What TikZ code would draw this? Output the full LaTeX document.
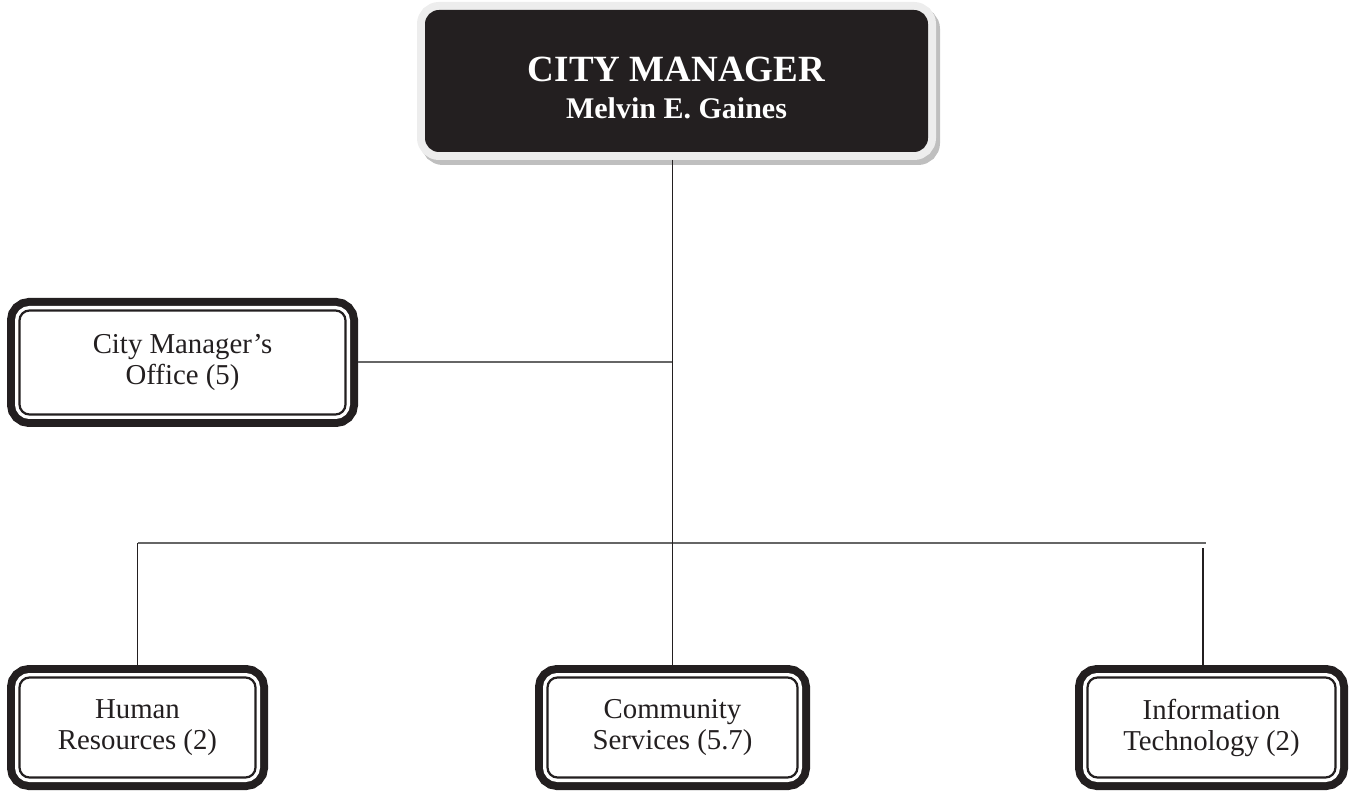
\documentclass[tikz,border=0pt]{standalone}
\usepackage{fontspec}
\setmainfont{Liberation Serif}
\usepackage{tikz}

\definecolor{inkblack}{HTML}{231F20}

\tikzset{
  boss/.style={rectangle, rounded corners=7pt, fill=inkblack, text=white,
    minimum width=251.5pt, minimum height=71pt, outer sep=4pt, align=center,
    font=\bfseries\fontsize{15}{18.5}\selectfont,
    preaction={draw=black!25, line width=8pt, transform canvas={shift={(2pt,-2.5pt)}}},
    preaction={draw=black!7, line width=8pt}},
  unitbox/.style={rectangle, rounded corners=5pt, draw=inkblack, line width=1.1pt,
    fill=white, text=inkblack, minimum height=50pt, outer sep=6.25pt, align=center,
    font=\fontsize{14.4}{15.5}\selectfont,
    preaction={draw=inkblack, line width=12.5pt},
    preaction={draw=white, line width=4.5pt}},
  link/.style={draw=inkblack, line width=0.8pt},
  bus/.style={draw=black!60, line width=1pt}
}

\begin{document}
\begin{tikzpicture}[x=0.5pt, y=-0.5pt]
    \useasboundingbox (0,0) rectangle (1351,791);
    % Nodes
    \node (top) [boss] at (676.5, 81) {{\fontsize{18.5}{18.5}\selectfont\rule{0pt}{19pt}CITY MANAGER}\\ Melvin E. Gaines};
    \node (cmo) [unitbox, minimum width=163pt, minimum height=52pt] at (182.5, 362.5) {City Manager's\\ Office (5)};
    \node (hr) [unitbox, minimum width=118pt] at (137.5, 727.5) {Human\\ Resources (2)};
    \node (cs) [unitbox, minimum width=125pt] at (672.5, 727.5) {Community\\ Services (5.7)};
    \node (it) [unitbox, minimum width=124pt] at (1211.5, 727.5) {Information\\ Technology (2)};
    % Lines
    \coordinate (bus) at (673, 543);
    \coordinate (busend) at (1206, 543);
    \coordinate (itdrop) at (1203, 548);
    \draw[bus] (cmo.east) -- (cmo.east -| cs.north);
    \draw[bus] (hr.north |- bus) -- (busend);
    \draw[link] (top.south -| cs.north) -- (cs.north);
    \draw[link] (hr.north |- bus) -- (hr.north);
    \draw[link] (itdrop) -- (itdrop |- it.north);
\end{tikzpicture}
\end{document}
